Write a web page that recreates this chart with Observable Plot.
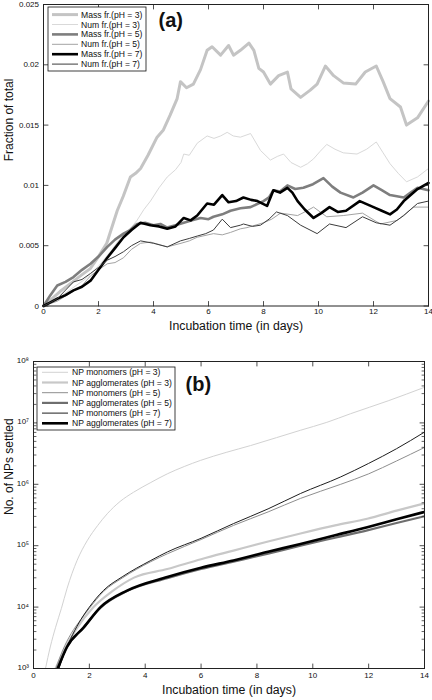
<!DOCTYPE html>
<html><head><meta charset="utf-8">
<script src="https://cdn.jsdelivr.net/npm/d3@7"></script>
<script src="https://cdn.jsdelivr.net/npm/@observablehq/plot@0.6"></script>
<style>
body{margin:0;background:#fff;}
#chart svg{display:block;}
</style></head><body><div id="chart"></div>
<script>
// ---------- Panel (a): fraction of total vs incubation time ----------
const massPH3_t = [0,0.3,0.6,1.0,1.4,1.7,2.0,2.3,2.68,2.9,3.16,3.35,3.53,3.8,4.13,4.36,4.6,4.86,4.98,5.2,5.45,5.71,5.95,6.13,6.44,6.73,6.91,7.16,7.47,7.65,7.83,8.0,8.25,8.55,8.87,9.0,9.35,9.7,9.95,10.25,10.55,10.9,11.35,11.7,12.1,12.35,12.6,12.98,13.2,13.6,14];
const massPH3_v = [0,0.0006,0.0012,0.0019,0.0026,0.0031,0.0041,0.0052,0.0079,0.0091,0.0107,0.0110,0.0114,0.0125,0.0140,0.0146,0.0158,0.0172,0.0186,0.0181,0.0184,0.0196,0.0212,0.0215,0.0208,0.0216,0.0208,0.0212,0.0218,0.0212,0.0197,0.0194,0.0184,0.0191,0.0194,0.0180,0.0173,0.0179,0.0184,0.0199,0.0191,0.0185,0.0184,0.0194,0.0199,0.0186,0.0172,0.0165,0.0150,0.0156,0.0170];

const numPH3_t = [0,0.5,1.0,1.5,2.0,2.5,2.91,3.15,3.4,3.65,3.89,4.2,4.5,4.8,5.0,5.1,5.3,5.59,5.95,6.2,6.44,6.68,6.9,7.16,7.53,7.89,8.25,8.5,8.73,9.0,9.35,9.6,9.82,10.05,10.3,10.6,10.9,11.4,11.75,12.1,12.35,12.6,12.9,13.2,13.6,14];
const numPH3_v = [0,0.0006,0.0014,0.0022,0.0033,0.0047,0.0060,0.0064,0.0071,0.0080,0.0087,0.0098,0.0107,0.0113,0.0119,0.0126,0.0125,0.0135,0.0141,0.0139,0.0141,0.0144,0.0141,0.0140,0.0143,0.0129,0.0121,0.0124,0.0126,0.0119,0.0115,0.0118,0.0122,0.0128,0.0134,0.0130,0.0127,0.0126,0.0130,0.0136,0.0127,0.0118,0.0110,0.0103,0.0107,0.0114];

const massPH5_t = [0,0.25,0.5,0.8,1.09,1.4,1.71,2.0,2.32,2.6,2.91,3.15,3.4,3.7,4.0,4.25,4.5,4.8,5.1,5.4,5.71,6.0,6.18,6.5,6.8,7.16,7.53,8.0,8.2,8.36,8.6,8.87,9.15,9.45,9.8,10.18,10.5,10.8,11.27,11.6,12.0,12.3,12.6,13.1,13.35,13.6,14];
const massPH5_v = [0,0.0009,0.0017,0.0020,0.0024,0.0030,0.0035,0.0041,0.0049,0.0055,0.0060,0.0063,0.0068,0.0069,0.0067,0.0068,0.0065,0.0067,0.0069,0.0071,0.0073,0.0072,0.0074,0.0076,0.0079,0.0081,0.0082,0.0087,0.0090,0.0096,0.0095,0.0100,0.0097,0.0098,0.0101,0.0106,0.0099,0.0094,0.0090,0.0094,0.0100,0.0096,0.0092,0.0090,0.0094,0.0098,0.0096];

const numPH5_t = [0,0.5,1.0,1.4,1.71,2.0,2.32,2.6,2.91,3.2,3.53,3.89,4.2,4.5,5.0,5.3,5.59,6.18,6.5,6.8,7.16,7.4,8.0,8.3,8.62,9.24,9.5,9.82,10.3,10.9,11.6,12.25,12.87,13.45,14];
const numPH5_v = [0,0.0004,0.0011,0.0017,0.0025,0.0030,0.0035,0.0036,0.0040,0.0047,0.0052,0.0053,0.0051,0.0049,0.0052,0.0054,0.0057,0.0060,0.0059,0.0061,0.0064,0.0065,0.0069,0.0072,0.0077,0.0075,0.0078,0.0082,0.0074,0.0075,0.0077,0.0068,0.0071,0.0082,0.0082];

const massPH7_t = [0,0.25,0.5,0.8,1.09,1.4,1.71,2.0,2.32,2.6,2.91,3.2,3.53,3.89,4.2,4.5,4.8,5.1,5.35,5.59,5.95,6.2,6.5,6.73,7.0,7.27,7.55,7.78,8.13,8.36,8.6,8.87,9.05,9.24,9.5,9.82,10.1,10.4,10.7,11.0,11.5,12.0,12.3,12.6,12.85,13.1,13.6,14];
const massPH7_v = [0,0.0003,0.0006,0.0009,0.0013,0.0016,0.0021,0.0030,0.0040,0.0048,0.0057,0.0063,0.0069,0.0067,0.0066,0.0064,0.0066,0.0073,0.0071,0.0075,0.0085,0.0084,0.0092,0.0086,0.0087,0.0090,0.0088,0.0087,0.0083,0.0096,0.0094,0.0098,0.0094,0.0087,0.0080,0.0073,0.0077,0.0082,0.0078,0.0079,0.0087,0.0082,0.0079,0.0076,0.0080,0.0087,0.0097,0.0102];

const numPH7_t = [0,0.5,1.09,1.4,1.71,2.0,2.32,2.6,2.91,3.2,3.53,4.0,4.5,4.98,5.3,5.59,5.9,6.18,6.5,6.8,7.16,7.27,7.6,7.89,8.2,8.47,8.87,9.35,9.95,10.4,11.0,11.6,12.1,12.6,13.1,13.6,14];
const numPH7_v = [0,0.0006,0.0020,0.0022,0.0027,0.0032,0.0038,0.0041,0.0045,0.0050,0.0054,0.0052,0.0049,0.0054,0.0056,0.0058,0.0060,0.0063,0.0072,0.0065,0.0067,0.0068,0.0066,0.0067,0.0072,0.0078,0.0075,0.0067,0.0060,0.0068,0.0065,0.0074,0.0069,0.0067,0.0075,0.0085,0.0087];

const xTicks = [0,2,4,6,8,10,12,14];
const yTicksA = [0,0.005,0.01,0.015,0.02,0.025];
const yTickLabelsA = ["0","0.005","0.01","0.015","0.02","0.025"];

// ---------- Panel (b): number of NPs settled (log scale) ----------
const monoPH3_t = [0.43,0.6,0.79,1.0,1.2,1.56,1.92,2.3,2.64,3.1,3.58,4.2,4.79,5.4,5.98,6.9,7.77,8.7,9.56,10.5,11.35,12.7,14];
const monoPH3_v = [1e3,2.24e3,4.68e3,9.55e3,2.0e4,5.75e4,1.2e5,2.14e5,3.31e5,5.25e5,7.41e5,1.07e6,1.48e6,1.95e6,2.45e6,3.31e6,4.27e6,5.75e6,7.59e6,1.02e7,1.41e7,2.29e7,3.8e7];

const aggPH3_t = [0.79,1.1,1.5,2.15,2.8,3.6,4.79,6.0,7.16,8.4,9.56,10.8,11.95,13.0,14];
const aggPH3_v = [1e3,2e3,4.17e3,1e4,1.78e4,3.02e4,4.17e4,6.03e4,8.32e4,1.17e5,1.58e5,2.14e5,2.75e5,3.72e5,4.9e5];

const monoPH5_t = [0.8,1.05,1.35,1.7,2.0,2.5,3.2,4.2,4.8,6.0,7.16,8.4,9.56,11.0,12.0,13.0,14];
const monoPH5_v = [1e3,2e3,3.72e3,6.31e3,9.55e3,1.78e4,3.02e4,5.5e4,7.41e4,1.26e5,2.14e5,3.55e5,5.89e5,1e6,1.48e6,2.4e6,3.98e6];

const aggPH5_t = [0.85,1.2,1.8,2.4,3.35,4.79,6.0,7.16,8.4,9.56,10.8,11.95,13.0,14];
const aggPH5_v = [1e3,2.29e3,4.68e3,9.77e3,1.82e4,2.95e4,4.17e4,5.5e4,7.41e4,1e5,1.35e5,1.78e5,2.34e5,3.02e5];

const monoPH7_t = [0.91,1.15,1.4,1.7,2.0,2.5,3.2,4.2,4.8,6.0,7.16,8.4,9.56,11.0,12.0,13.0,14];
const monoPH7_v = [1e3,2e3,3.55e3,6.31e3,1e4,1.86e4,3.16e4,5.75e4,7.94e4,1.32e5,2.29e5,3.98e5,7.08e5,1.32e6,2.19e6,3.8e6,7.08e6];

const aggPH7_t = [0.87,1.2,1.8,2.4,3.35,4.79,6.0,7.16,8.4,9.56,10.8,11.95,13.0,14];
const aggPH7_v = [1e3,2.24e3,4.68e3,1e4,1.86e4,3.09e4,4.37e4,5.75e4,7.94e4,1.07e5,1.48e5,2e5,2.69e5,3.55e5];

const yTicksB = [1e3,1e4,1e5,1e6,1e7,1e8];
const yTickLabelsB = ["10³","10⁴","10⁵","10⁶","10⁷","10⁸"];
const yMinorB = [3,4,5,6,7].flatMap(k => [2,3,4,5,6,7,8,9].map(m => m * 10 ** k));

// ---------- series definitions ----------
const seriesA = [
  {name:"Mass fr.(pH = 3)", t:massPH3_t, v:massPH3_v, stroke:"#c4c4c4", w:3},
  {name:"Num fr.(pH = 3)",  t:numPH3_t,  v:numPH3_v,  stroke:"#d9d9d9", w:1},
  {name:"Mass fr.(pH = 5)", t:massPH5_t, v:massPH5_v, stroke:"#7e7e7e", w:2.6},
  {name:"Num fr.(pH = 5)",  t:numPH5_t,  v:numPH5_v,  stroke:"#a3a3a3", w:1},
  {name:"Mass fr.(pH = 7)", t:massPH7_t, v:massPH7_v, stroke:"#000000", w:2.6},
  {name:"Num fr.(pH = 7)",  t:numPH7_t,  v:numPH7_v,  stroke:"#3c3c3c", w:1}
];
const seriesB = [
  {name:"NP monomers (pH = 3)",    t:monoPH3_t, v:monoPH3_v, stroke:"#d2d2d2", w:1},
  {name:"NP agglomerates (pH = 3)",t:aggPH3_t,  v:aggPH3_v,  stroke:"#c8c8c8", w:2.2},
  {name:"NP monomers (pH = 5)",    t:monoPH5_t, v:monoPH5_v, stroke:"#8e8e8e", w:1},
  {name:"NP agglomerates (pH = 5)",t:aggPH5_t,  v:aggPH5_v,  stroke:"#6e6e6e", w:2.2},
  {name:"NP monomers (pH = 7)",    t:monoPH7_t, v:monoPH7_v, stroke:"#1e1e1e", w:1},
  {name:"NP agglomerates (pH = 7)",t:aggPH7_t,  v:aggPH7_v,  stroke:"#000000", w:2.6}
];

const FONT = "'Liberation Sans', Arial, Helvetica, sans-serif";
const rows = s => s.t.map((t, i) => ({t, v: s.v[i]}));
const tickShape = {draw(ctx, l) { ctx.moveTo(0, 0); ctx.lineTo(0, -l); }};

function boxTicks(xs, ys, len, stroke) {
  const o = {length: len, shape: tickShape, anchor: "start", stroke, strokeWidth: 0.8};
  return [
    Plot.vector(xs, {x: d => d, frameAnchor: "bottom", rotate: 0, ...o}),
    Plot.vector(xs, {x: d => d, frameAnchor: "top", rotate: 180, ...o}),
    Plot.vector(ys, {y: d => d, frameAnchor: "left", rotate: 90, ...o}),
    Plot.vector(ys, {y: d => d, frameAnchor: "right", rotate: -90, ...o})
  ];
}

function addLegend(svg, items, box, row) {
  const g = d3.select(svg).append("g").attr("font-family", FONT).attr("font-size", 8.6).attr("text-anchor", "start");
  g.append("rect").attr("x", box.x).attr("y", box.y).attr("width", box.w).attr("height", box.h)
    .attr("fill", "#fff").attr("stroke", "#111").attr("stroke-width", 0.8);
  items.forEach((s, i) => {
    const y = row.y0 + i * row.dy;
    g.append("line").attr("x1", row.lx1).attr("x2", row.lx2).attr("y1", y).attr("y2", y)
      .attr("stroke", s.stroke).attr("stroke-width", s.w);
    g.append("text").attr("x", row.tx).attr("y", y).attr("dy", "0.35em").attr("text-anchor", "start")
      .attr("fill", "#111").text(s.name);
  });
}

// ---------- Panel (a) ----------
const plotA = Plot.plot({
  width: 432, height: 350,
  marginTop: 4, marginBottom: 44.5, marginLeft: 43, marginRight: 4,
  style: {fontFamily: FONT, fontSize: "8px", background: "#fff", color: "#111"},
  x: {domain: [0, 14], axis: null},
  y: {domain: [0, 0.025], axis: null},
  marks: [
    ...seriesA.map(s => Plot.line(rows(s), {x: "t", y: "v", stroke: s.stroke, strokeWidth: s.w, strokeLinejoin: "round"})),
    Plot.frame({stroke: "#222", strokeWidth: 1}),
    ...boxTicks(xTicks, yTicksA, 4.5, "#222"),
    Plot.text(xTicks, {x: d => d, frameAnchor: "bottom", dy: 8, text: d => String(d), fontSize: 8, fill: "#111"}),
    Plot.text(yTicksA, {y: d => d, frameAnchor: "left", dx: -4.5, text: (d, i) => yTickLabelsA[i], textAnchor: "end", fontSize: 8, fill: "#111"}),
    Plot.text(["Incubation time (in days)"], {frameAnchor: "bottom", dy: 24, fontSize: 12.3, fill: "#111"}),
    Plot.text(["Fraction of total"], {frameAnchor: "left", rotate: -90, dx: -34, dy: 6, fontSize: 12, fill: "#111"}),
    Plot.text(["(a)"], {frameAnchor: "top-left", dx: 115, dy: 8, lineAnchor: "top", textAnchor: "start", fontSize: 20, fontWeight: "bold", fill: "#111"})
  ]
});
addLegend(plotA, seriesA, {x: 48, y: 7, w: 98, h: 64}, {y0: 14.6, dy: 9.9, lx1: 52, lx2: 78, tx: 81});

// ---------- Panel (b) ----------
const plotB = Plot.plot({
  width: 432, height: 350,
  marginTop: 11, marginBottom: 32, marginLeft: 33, marginRight: 8,
  style: {fontFamily: FONT, fontSize: "8px", background: "#fff", color: "#111"},
  x: {domain: [0, 14], axis: null},
  y: {type: "log", domain: [1e3, 1e8], axis: null},
  marks: [
    ...seriesB.map(s => Plot.line(rows(s), {x: "t", y: "v", stroke: s.stroke, strokeWidth: s.w, curve: "monotone-x", clip: true})),
    Plot.frame({stroke: "#222", strokeWidth: 1}),
    ...boxTicks(xTicks, yTicksB, 4.5, "#222"),
    Plot.vector(yMinorB, {y: d => d, frameAnchor: "left", rotate: 90, length: 2.5, shape: tickShape, anchor: "start", stroke: "#222", strokeWidth: 0.7}),
    Plot.vector(yMinorB, {y: d => d, frameAnchor: "right", rotate: -90, length: 2.5, shape: tickShape, anchor: "start", stroke: "#222", strokeWidth: 0.7}),
    Plot.text(xTicks, {x: d => d, frameAnchor: "bottom", dy: 9, text: d => String(d), fontSize: 8, fill: "#111"}),
    Plot.text(yTicksB, {y: d => d, frameAnchor: "left", dx: -4.5, dy: -1, text: (d, i) => yTickLabelsB[i], textAnchor: "end", fontSize: 8, fill: "#111"}),
    Plot.text(["Incubation time (in days)"], {frameAnchor: "bottom", dy: 25, fontSize: 12.3, fill: "#111"}),
    Plot.text(["No. of NPs settled"], {frameAnchor: "left", rotate: -90, dx: -24, dy: 0, fontSize: 12, fill: "#111"}),
    Plot.text(["(b)"], {frameAnchor: "top-left", dx: 152, dy: 15, lineAnchor: "top", textAnchor: "start", fontSize: 20, fontWeight: "bold", fill: "#111"})
  ]
});
addLegend(plotB, seriesB, {x: 37, y: 17, w: 138, h: 63}, {y0: 22.3, dy: 10.2, lx1: 42, lx2: 68, tx: 72});

document.getElementById("chart").append(plotA, plotB);
</script>
</body></html>
